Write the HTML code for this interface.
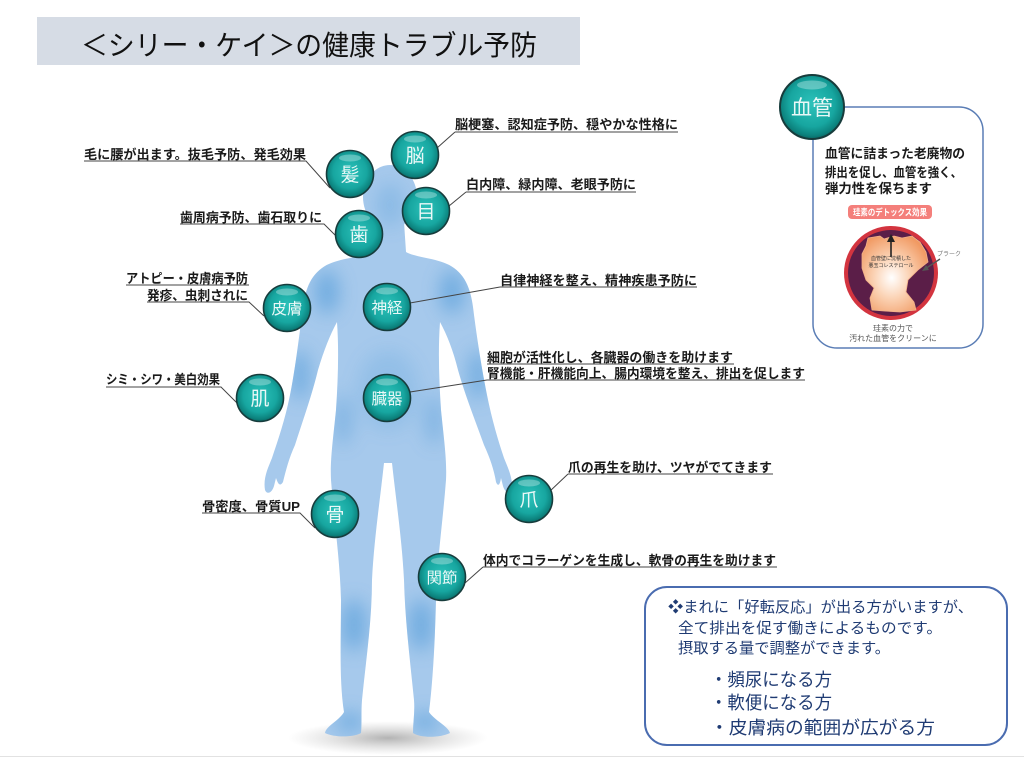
<!DOCTYPE html>
<html><head><meta charset="utf-8"><style>
html,body{margin:0;padding:0;background:#fff;}
svg{display:block;}
.lb{font-family:"Liberation Sans","Noto Sans CJK JP",sans-serif;font-size:13px;font-weight:bold;fill:#1a1a1a;}
.bt{font-family:"Liberation Sans","Noto Sans CJK JP",sans-serif;fill:#eaf8f7;text-anchor:middle;}
.nv{font-family:"Liberation Sans","Noto Sans CJK JP",sans-serif;fill:#1f3b73;}
</style></head><body>
<svg width="1024" height="758" viewBox="0 0 1024 758" xmlns="http://www.w3.org/2000/svg">
<defs>
<radialGradient id="tg" cx="50%" cy="45%" r="55%">
<stop offset="0%" stop-color="#2cc2ba"/><stop offset="65%" stop-color="#17a6a0"/><stop offset="90%" stop-color="#0c827d"/><stop offset="100%" stop-color="#0a6865"/>
</radialGradient>
<radialGradient id="sh" cx="50%" cy="50%" r="50%">
<stop offset="0%" stop-color="#9a9a9a" stop-opacity="0.75"/><stop offset="100%" stop-color="#bbbbbb" stop-opacity="0"/>
</radialGradient>
<radialGradient id="pl" cx="45%" cy="55%" r="60%">
<stop offset="0%" stop-color="#ffffff"/><stop offset="45%" stop-color="#fbd3b5"/><stop offset="100%" stop-color="#f19a63"/>
</radialGradient>
<filter id="bl" x="-20%" y="-20%" width="140%" height="140%"><feGaussianBlur stdDeviation="9"/></filter>
<clipPath id="bc"><use href="#bodyp"/><ellipse cx="390" cy="197" rx="27" ry="32"/></clipPath>
<path id="bodyp" d="M374 222 L372 252 C360 258 335 258 322 268 C308 278 304 295 302 315 C298 345 295 370 290 395 C285 420 278 440 272 458 C268 468 263 478 265 490 C267 495 272 493 274 486 L276 478 C278 484 280 487 283 482 C286 470 289 458 295 445 C303 420 312 395 318 370 C324 350 330 335 337 322 C339 350 338 380 336 410 C333 440 330 460 331 480 C334 520 340 560 341 600 C341 640 339 680 344 712 C340 720 326 726 325 733 C335 738 355 737 361 733 C362 722 361 712 362 700 C366 660 372 620 372 580 C374 540 380 500 384 463 L392 463 C396 500 402 540 404 580 C405 620 410 660 414 700 C415 712 413 722 413 733 C420 738 440 738 450 733 C448 726 434 720 429 712 C433 680 435 640 436 600 C437 560 443 520 446 480 C447 460 444 440 441 410 C439 380 438 350 440 322 C447 335 453 350 458 370 C465 395 475 420 484 445 C490 458 494 470 496 482 C498 487 500 485 501 478 L503 486 C505 493 510 495 512 490 C513 478 508 468 504 458 C498 440 492 420 487 395 C482 370 478 345 474 315 C472 295 468 278 454 268 C441 258 416 258 406 252 L404 222 Z"/>
</defs>

<!-- title band -->
<rect x="37" y="17" width="543" height="48" fill="#d6dce5"/>
<text x="81" y="55" textLength="456" lengthAdjust="spacingAndGlyphs" style="font-family:'Liberation Sans','Noto Sans CJK JP',sans-serif;font-size:28px;fill:#111;">＜シリー・ケイ＞の健康トラブル予防</text>

<!-- shadow -->
<ellipse cx="388" cy="738" rx="100" ry="17" fill="url(#sh)"/>

<!-- body -->
<g>
<use href="#bodyp" fill="#a6c9ec"/>
<ellipse cx="390" cy="197" rx="27" ry="32" fill="#a6c9ec"/>
<g clip-path="url(#bc)" filter="url(#bl)" fill="#5fa3dc" opacity="0.75">
<ellipse cx="390" cy="205" rx="14" ry="22" opacity="0.5"/>
<ellipse cx="327" cy="292" rx="12" ry="22"/>
<ellipse cx="452" cy="292" rx="12" ry="22"/>
<ellipse cx="300" cy="375" rx="9" ry="25"/>
<ellipse cx="478" cy="375" rx="9" ry="25"/>
<ellipse cx="343" cy="420" rx="9" ry="25" opacity="0.7"/>
<ellipse cx="434" cy="420" rx="9" ry="25" opacity="0.7"/>
<ellipse cx="354" cy="625" rx="12" ry="26"/>
<ellipse cx="421" cy="625" rx="12" ry="26"/>
<ellipse cx="350" cy="722" rx="14" ry="9"/>
<ellipse cx="425" cy="722" rx="14" ry="9"/>
<ellipse cx="388" cy="390" rx="30" ry="40" opacity="0.35"/>
</g>
</g>

<!-- leader lines & underlines -->
<g stroke="#444" stroke-width="1" fill="none">
<path d="M455 132 H678 M455 132 L437 148"/>
<path d="M84 161 H306 L330 188"/>
<path d="M466 192 H636 M466 192 L449 206"/>
<path d="M180 224 H324 L337 237"/>
<path d="M126 285 H249 M147 302 H249 L264 316"/>
<path d="M500 287 H697 M500 287 L410 303"/>
<path d="M106 387 H221 L238 404"/>
<path d="M487 364 H734 M487 380 H805 M487 380 L410 392"/>
<path d="M568 474 H773 M568 474 L549 492"/>
<path d="M202 513 H300 L315 528"/>
<path d="M483 567 H777 M483 567 L465 583"/>
</g>

<!-- labels -->
<text class="lb" x="455" y="129" textLength="223" lengthAdjust="spacingAndGlyphs">脳梗塞、認知症予防、穏やかな性格に</text>
<text class="lb" x="84" y="159" textLength="222" lengthAdjust="spacingAndGlyphs">毛に腰が出ます。抜毛予防、発毛効果</text>
<text class="lb" x="466" y="189" textLength="170" lengthAdjust="spacingAndGlyphs">白内障、緑内障、老眼予防に</text>
<text class="lb" x="180" y="222" textLength="142" lengthAdjust="spacingAndGlyphs">歯周病予防、歯石取りに</text>
<text class="lb" x="126" y="283" textLength="122" lengthAdjust="spacingAndGlyphs">アトピー・皮膚病予防</text>
<text class="lb" x="147" y="300" textLength="101" lengthAdjust="spacingAndGlyphs">発疹、虫刺されに</text>
<text class="lb" x="500" y="285" textLength="197" lengthAdjust="spacingAndGlyphs">自律神経を整え、精神疾患予防に</text>
<text class="lb" x="106" y="384" textLength="114" lengthAdjust="spacingAndGlyphs">シミ・シワ・美白効果</text>
<text class="lb" x="487" y="362" textLength="246" lengthAdjust="spacingAndGlyphs">細胞が活性化し、各臓器の働きを助けます</text>
<text class="lb" x="487" y="378" textLength="318" lengthAdjust="spacingAndGlyphs">腎機能・肝機能向上、腸内環境を整え、排出を促します</text>
<text class="lb" x="568" y="472" textLength="204" lengthAdjust="spacingAndGlyphs">爪の再生を助け、ツヤがでてきます</text>
<text class="lb" x="202" y="511" textLength="98" lengthAdjust="spacingAndGlyphs">骨密度、骨質UP</text>
<text class="lb" x="483" y="565" textLength="293" lengthAdjust="spacingAndGlyphs">体内でコラーゲンを生成し、軟骨の再生を助けます</text>

<!-- badges -->
<g id="badges">
<g><circle cx="415" cy="155" r="23.5" fill="url(#tg)" stroke="#173c3c" stroke-width="1.6"/><ellipse cx="415" cy="139" rx="11" ry="3.5" fill="#fff" opacity="0.3"/><text class="bt" x="415" y="162" font-size="19">脳</text></g>
<g><circle cx="350" cy="174" r="23.5" fill="url(#tg)" stroke="#173c3c" stroke-width="1.6"/><ellipse cx="350" cy="158" rx="11" ry="3.5" fill="#fff" opacity="0.3"/><text class="bt" x="350" y="181" font-size="19">髪</text></g>
<g><circle cx="426" cy="211" r="23.5" fill="url(#tg)" stroke="#173c3c" stroke-width="1.6"/><ellipse cx="426" cy="195" rx="11" ry="3.5" fill="#fff" opacity="0.3"/><text class="bt" x="426" y="218" font-size="19">目</text></g>
<g><circle cx="359" cy="234" r="23.5" fill="url(#tg)" stroke="#173c3c" stroke-width="1.6"/><ellipse cx="359" cy="218" rx="11" ry="3.5" fill="#fff" opacity="0.3"/><text class="bt" x="359" y="241" font-size="19">歯</text></g>
<g><circle cx="287" cy="308" r="23.5" fill="url(#tg)" stroke="#173c3c" stroke-width="1.6"/><ellipse cx="287" cy="292" rx="11" ry="3.5" fill="#fff" opacity="0.3"/><text class="bt" x="287" y="314" font-size="15.5">皮膚</text></g>
<g><circle cx="387" cy="307" r="23.5" fill="url(#tg)" stroke="#173c3c" stroke-width="1.6"/><ellipse cx="387" cy="291" rx="11" ry="3.5" fill="#fff" opacity="0.3"/><text class="bt" x="387" y="313" font-size="15.5">神経</text></g>
<g><circle cx="260" cy="398" r="23.5" fill="url(#tg)" stroke="#173c3c" stroke-width="1.6"/><ellipse cx="260" cy="382" rx="11" ry="3.5" fill="#fff" opacity="0.3"/><text class="bt" x="260" y="405" font-size="19">肌</text></g>
<g><circle cx="387" cy="398" r="23.5" fill="url(#tg)" stroke="#173c3c" stroke-width="1.6"/><ellipse cx="387" cy="382" rx="11" ry="3.5" fill="#fff" opacity="0.3"/><text class="bt" x="387" y="404" font-size="15.5">臓器</text></g>
<g><circle cx="529" cy="499" r="23.5" fill="url(#tg)" stroke="#173c3c" stroke-width="1.6"/><ellipse cx="529" cy="483" rx="11" ry="3.5" fill="#fff" opacity="0.3"/><text class="bt" x="529" y="506" font-size="19">爪</text></g>
<g><circle cx="335" cy="514" r="23.5" fill="url(#tg)" stroke="#173c3c" stroke-width="1.6"/><ellipse cx="335" cy="498" rx="11" ry="3.5" fill="#fff" opacity="0.3"/><text class="bt" x="335" y="521" font-size="19">骨</text></g>
<g><circle cx="442" cy="577" r="23.5" fill="url(#tg)" stroke="#173c3c" stroke-width="1.6"/><ellipse cx="442" cy="561" rx="11" ry="3.5" fill="#fff" opacity="0.3"/><text class="bt" x="442" y="583" font-size="15.5">関節</text></g>
</g>

<!-- right panel -->
<rect x="813" y="107" width="170" height="241" rx="24" ry="24" fill="#fff" stroke="#5a7db5" stroke-width="1.5"/>
<circle cx="812" cy="107" r="32" fill="url(#tg)" stroke="#173c3c" stroke-width="2"/>
<ellipse cx="812" cy="85" rx="15" ry="4.5" fill="#fff" opacity="0.3"/>
<text class="bt" x="812" y="115" font-size="21">血管</text>
<text class="lb" x="825" y="158" textLength="140" lengthAdjust="spacingAndGlyphs">血管に詰まった老廃物の</text>
<text class="lb" x="825" y="177" textLength="137" lengthAdjust="spacingAndGlyphs">排出を促し、血管を強く、</text>
<text class="lb" x="825" y="193" textLength="107" lengthAdjust="spacingAndGlyphs">弾力性を保ちます</text>
<rect x="848" y="205" width="84" height="14" rx="4" fill="#f47f7b"/>
<text x="890" y="215.5" text-anchor="middle" textLength="74" lengthAdjust="spacingAndGlyphs" style="font-family:'Liberation Sans','Noto Sans CJK JP',sans-serif;font-size:9px;fill:#fff;font-weight:bold;">珪素のデトックス効果</text>
<circle cx="891" cy="273" r="47" fill="#d3343f"/>
<circle cx="891" cy="273" r="43" fill="#5b1e48"/>
<path d="M868 238 L880 236 L884 239 L894 236 L902 238 L912 236 L920 242 L926 252 L928 262 L918 270 L908 280 L906 292 L914 302 L916 310 L900 312 L884 311 L872 310 L870 298 L874 288 L866 280 L862 268 L862 254 L866 246 Z" fill="url(#pl)" stroke="#f0b08a" stroke-width="0.8"/>
<line x1="891" y1="257" x2="891" y2="240" stroke="#222" stroke-width="1.6"/>
<path d="M887 242 L891 234 L895 242 Z" fill="#222"/>
<text x="891" y="260" text-anchor="middle" style="font-family:'Liberation Sans','Noto Sans CJK JP',sans-serif;font-size:5px;fill:#333;">血管壁に沈積した</text>
<text x="891" y="267" text-anchor="middle" style="font-family:'Liberation Sans','Noto Sans CJK JP',sans-serif;font-size:5px;fill:#333;">悪玉コレステロール</text>
<text x="937" y="256" style="font-family:'Liberation Sans','Noto Sans CJK JP',sans-serif;font-size:6px;fill:#777;">プラーク</text>
<line x1="940" y1="259" x2="925" y2="269" stroke="#555" stroke-width="1.4"/>
<path d="M922 271 L926 265 L929 270 Z" fill="#555"/>
<text x="893" y="331" text-anchor="middle" style="font-family:'Liberation Sans','Noto Sans CJK JP',sans-serif;font-size:8px;fill:#555;">珪素の力で</text>
<text x="893" y="341" text-anchor="middle" style="font-family:'Liberation Sans','Noto Sans CJK JP',sans-serif;font-size:8px;fill:#555;">汚れた血管をクリーンに</text>

<!-- bottom box -->
<rect x="645" y="587" width="362" height="158" rx="22" ry="22" fill="#fff" stroke="#4a6cb0" stroke-width="2"/>
<text class="nv" x="668" y="612" font-size="15" textLength="305" lengthAdjust="spacingAndGlyphs">❖まれに「好転反応」が出る方がいますが、</text>
<text class="nv" x="678" y="633" font-size="15" textLength="264" lengthAdjust="spacingAndGlyphs">全て排出を促す働きによるものです。</text>
<text class="nv" x="678" y="653" font-size="15" textLength="212" lengthAdjust="spacingAndGlyphs">摂取する量で調整ができます。</text>
<text class="nv" x="710" y="686" font-size="18" textLength="122" lengthAdjust="spacingAndGlyphs">・頻尿になる方</text>
<text class="nv" x="710" y="709" font-size="18" textLength="122" lengthAdjust="spacingAndGlyphs">・軟便になる方</text>
<text class="nv" x="710" y="734" font-size="18" textLength="225" lengthAdjust="spacingAndGlyphs">・皮膚病の範囲が広がる方</text>

<line x1="0" y1="756.5" x2="1024" y2="756.5" stroke="#e2e2e2" stroke-width="1"/>
</svg>
</body></html>
